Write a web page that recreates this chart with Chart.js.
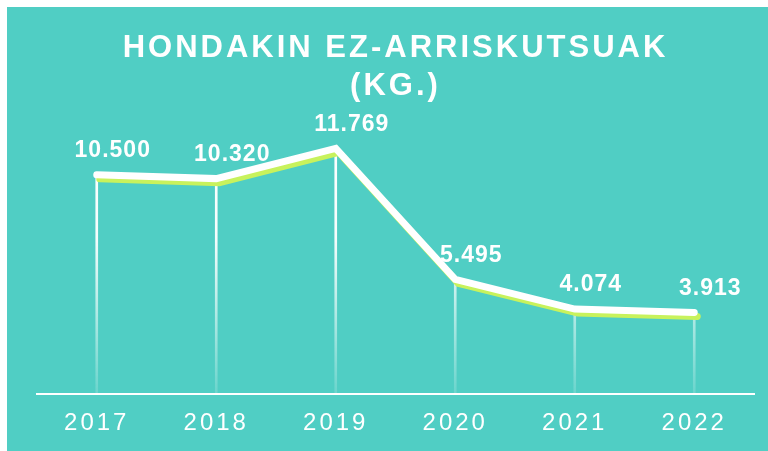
<!DOCTYPE html>
<html>
<head>
<meta charset="utf-8">
<script src="https://cdn.jsdelivr.net/npm/chart.js@4/dist/chart.umd.min.js"></script>
<style>
    html, body { margin: 0; padding: 0; background: #ffffff; }
    #panel {
        position: absolute;
        left: 7px;
        top: 7px;
        width: 761px;
        height: 444px;
        background: rgb(80, 206, 196);
    }
</style>
</head>
<body>
<div id="panel"><canvas id="wasteChart"></canvas></div>
<script>
// Chart data
const years = ['2017', '2018', '2019', '2020', '2021', '2022'];
const wasteKg = [10500, 10320, 11769, 5495, 4074, 3913];
const titleLines = ['HONDAKIN EZ-ARRISKUTSUAK', '(KG.)'];

const FONT = "'Liberation Sans', Arial, sans-serif";
const SHADOW_GREEN = 'rgb(200, 242, 92)';

// 10500 -> "10.500"
function formatKg(value) {
    return value.toString().replace(/\B(?=(\d{3})+(?!\d))/g, '.');
}

// Letter spacing for title and ticks, reset before the datasets
const spacingPlugin = {
    id: 'spacing',
    beforeDraw(chart) {
        chart.ctx.letterSpacing = '3px';
    },
    beforeDatasetsDraw(chart) {
        chart.ctx.letterSpacing = '0px';
    }
};

// Green offset shadow under the white line
const shadowPlugin = {
    id: 'lineShadow',
    beforeDatasetDraw(chart, args) {
        if (args.meta.type !== 'line') return;
        const ctx = chart.ctx;
        ctx.save();
        ctx.shadowColor = SHADOW_GREEN;
        ctx.shadowOffsetX = 3;
        ctx.shadowOffsetY = 4;
        ctx.shadowBlur = 0;
    },
    afterDatasetDraw(chart, args) {
        if (args.meta.type !== 'line') return;
        chart.ctx.restore();
    }
};

// Value labels above the points
const valueLabels = {
    id: 'valueLabels',
    afterDatasetsDraw(chart) {
        const ctx = chart.ctx;
        const meta = chart.getDatasetMeta(0);
        ctx.save();
        ctx.letterSpacing = '1px';
        ctx.font = 'bold 23px ' + FONT;
        ctx.fillStyle = '#ffffff';
        ctx.textAlign = 'center';
        ctx.textBaseline = 'middle';
        meta.data.forEach((pt, i) => {
            ctx.fillText(formatKg(wasteKg[i]), pt.x + 16, pt.y - 24);
        });
        ctx.restore();
    }
};

function dropLineColor(context) {
    const area = context.chart.chartArea;
    if (!area) return '#ffffff';
    const g = context.chart.ctx.createLinearGradient(0, area.top, 0, area.bottom);
    g.addColorStop(0, 'rgba(255,255,255,1)');
    g.addColorStop(0.45, 'rgba(255,255,255,0.95)');
    g.addColorStop(1, 'rgba(255,255,255,0.15)');
    return g;
}

const chart = new Chart(document.getElementById('wasteChart'), {
    type: 'bar',
    data: {
        labels: years,
        datasets: [
            {
                type: 'line',
                data: wasteKg,
                borderColor: '#ffffff',
                borderWidth: 7,
                borderCapStyle: 'round',
                borderJoinStyle: 'miter',
                tension: 0,
                pointRadius: 0,
                order: 0
            },
            {
                type: 'bar',
                data: wasteKg,
                backgroundColor: dropLineColor,
                barThickness: 2,
                order: 1
            }
        ]
    },
    options: {
        responsive: true,
        maintainAspectRatio: false,
        animation: false,
        layout: {
            padding: { left: 30, right: 14, top: 0, bottom: 6 }
        },
        plugins: {
            legend: { display: false },
            tooltip: { enabled: false },
            title: {
                display: true,
                text: titleLines,
                color: '#ffffff',
                font: { family: FONT, size: 31, weight: 'bold', lineHeight: 1.22 },
                padding: { top: 23, bottom: 3 }
            }
        },
        scales: {
            x: {
                grid: { display: false },
                border: { display: true, color: '#ffffff', width: 2 },
                ticks: {
                    color: '#ffffff',
                    padding: 7,
                    font: { family: FONT, size: 24 }
                }
            },
            y: {
                display: false,
                min: 0,
                max: 13670
            }
        }
    },
    plugins: [spacingPlugin, shadowPlugin, valueLabels]
});
</script>
</body>
</html>
